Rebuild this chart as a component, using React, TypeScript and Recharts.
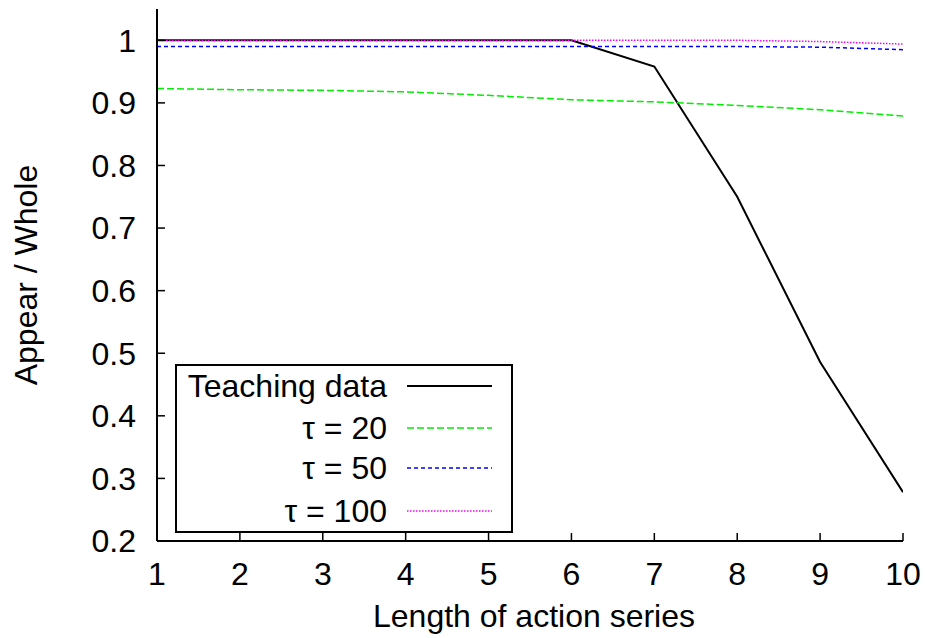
import React from 'react';
import { LineChart, Line, XAxis, YAxis, Legend } from 'recharts';

const lengths = [1, 2, 3, 4, 5, 6, 7, 8, 9, 10];
const teachingData = [1, 1, 1, 1, 1, 1, 0.958, 0.75, 0.486, 0.278];
const tau20 = [0.923, 0.921, 0.92, 0.9176, 0.912, 0.905, 0.9016, 0.896, 0.889, 0.879];
const tau50 = [0.99, 0.99, 0.99, 0.99, 0.99, 0.99, 0.99, 0.99, 0.989, 0.985];
const tau100 = [1, 1, 1, 1, 1, 1, 1, 1, 0.998, 0.994];

const xTicks = [1, 2, 3, 4, 5, 6, 7, 8, 9, 10];
const yTicks = [0.2, 0.3, 0.4, 0.5, 0.6, 0.7, 0.8, 0.9, 1];
const xTitle = 'Length of action series';
const yTitle = 'Appear / Whole';

const series = [
  { key: 'teaching', name: 'Teaching data', color: '#000000', dash: undefined as string | undefined, width: 2 },
  { key: 'tau20', name: 'τ = 20', color: '#00ee00', dash: '7 3', width: 1.5 },
  { key: 'tau50', name: 'τ = 50', color: '#0000ff', dash: '4 3', width: 1.5 },
  { key: 'tau100', name: 'τ = 100', color: '#ff00ff', dash: '1.5 1.5', width: 1.5 },
];

const data = lengths.map((x, i) => ({
  x,
  teaching: teachingData[i],
  tau20: tau20[i],
  tau50: tau50[i],
  tau100: tau100[i],
}));

const FONT = '"Liberation Sans", Arial, Helvetica, sans-serif';
const FS = 32;
const tickStyle = { fontSize: FS, fill: '#000', fontFamily: FONT };
const empty = () => '';

const LegendBox = () => (
  <svg width={338} height={169} style={{ display: 'block' }}>
    <rect x={1} y={1} width={336} height={167} fill="#fff" stroke="#000" strokeWidth={2} />
    {series.map((s, i) => {
      const cy = [22, 64, 104, 147][i];
      return (
        <g key={s.key}>
          <text x={212} y={cy} textAnchor="end" dominantBaseline="central" fontSize={FS} fontFamily={FONT} fill="#000">
            {s.name}
          </text>
          <line x1={232} x2={317} y1={cy} y2={cy} stroke={s.color} strokeWidth={s.width} strokeDasharray={s.dash} />
        </g>
      );
    })}
  </svg>
);

export default function App() {
  return (
    <div style={{ position: 'absolute', left: 0, top: 0, width: 925, height: 638, background: '#fff' }}>
      <LineChart width={925} height={638} data={data} margin={{ top: 9, right: 22, left: 0, bottom: 0 }}>
        <XAxis
          dataKey="x"
          type="number"
          domain={[1, 10]}
          ticks={xTicks}
          allowDataOverflow
          height={97}
          tickSize={-8}
          tickMargin={29}
          tick={tickStyle}
          axisLine={{ stroke: '#000', strokeWidth: 2 }}
          tickLine={{ stroke: '#000', strokeWidth: 1.5 }}
          label={() => (
            <text x={534} y={627} textAnchor="middle" fontSize={FS} fontFamily={FONT} fill="#000">
              {xTitle}
            </text>
          )}
        />
        <XAxis
          xAxisId="top"
          orientation="top"
          type="number"
          domain={[1, 10]}
          ticks={xTicks}
          allowDataOverflow
          height={0}
          tickSize={-8}
          tickFormatter={empty}
          axisLine={{ stroke: '#000', strokeWidth: 2 }}
          tickLine={{ stroke: '#000', strokeWidth: 1.5 }}
        />
        <YAxis
          type="number"
          domain={[0.2, 1.05]}
          ticks={yTicks}
          allowDataOverflow
          width={157}
          tickSize={-8}
          tickMargin={29}
          tick={tickStyle}
          tickFormatter={(v: number) => String(v)}
          axisLine={{ stroke: '#000', strokeWidth: 2 }}
          tickLine={{ stroke: '#000', strokeWidth: 1.5 }}
          label={() => (
            <text x={37} y={275} transform="rotate(-90 37 275)" textAnchor="middle" fontSize={FS} fontFamily={FONT} fill="#000">
              {yTitle}
            </text>
          )}
        />
        <YAxis
          yAxisId="right"
          orientation="right"
          type="number"
          domain={[0.2, 1.05]}
          ticks={yTicks}
          allowDataOverflow
          width={0}
          tickSize={-8}
          tickFormatter={empty}
          axisLine={{ stroke: '#000', strokeWidth: 2 }}
          tickLine={{ stroke: '#000', strokeWidth: 1.5 }}
        />
        {series.map((s) => (
          <Line
            key={s.key}
            dataKey={s.key}
            name={s.name}
            type="linear"
            stroke={s.color}
            strokeWidth={s.width}
            strokeDasharray={s.dash}
            dot={false}
            activeDot={false}
            isAnimationActive={false}
          />
        ))}
        <Legend
          layout="vertical"
          align="center"
          verticalAlign="middle"
          wrapperStyle={{ position: 'absolute', left: 175, top: 364, width: 338, height: 169 }}
          content={() => <LegendBox />}
        />
      </LineChart>
    </div>
  );
}
